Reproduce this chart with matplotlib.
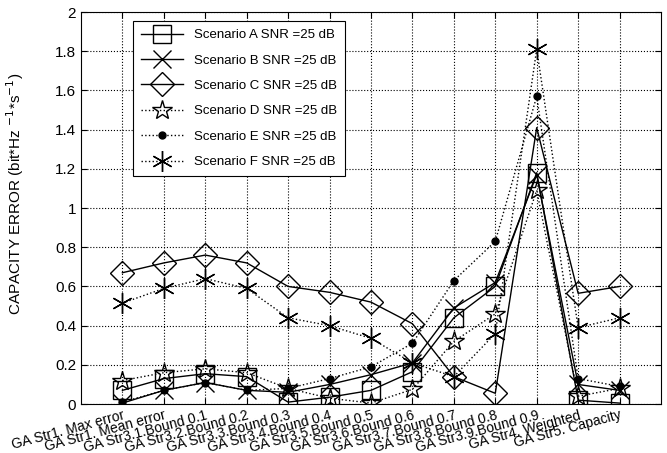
import numpy as np
import matplotlib
matplotlib.use("Agg")
import matplotlib.pyplot as plt

plt.rcParams['font.family'] = ['Liberation Sans', 'DejaVu Sans']

categories = ['GA Str1. Max error', 'GA Str1. Mean error',
              'GA Str3.1.Bound 0.1', 'GA Str3.2.Bound 0.2', 'GA Str3.3.Bound 0.3',
              'GA Str3.4.Bound 0.4', 'GA Str3.5.Bound 0.5', 'GA Str3.6.Bound 0.6',
              'GA Str3.7.Bound 0.7', 'GA Str3.8.Bound 0.8', 'GA Str3.9.Bound 0.9',
              'GA Str4. Weighted', 'GA Str5. Capacity']

scen_a = [0.07, 0.13, 0.155, 0.14, 0.01, 0.035, 0.07, 0.165, 0.44, 0.60, 1.18, 0.02, 0.005]
scen_b = [0.005, 0.07, 0.11, 0.07, 0.06, 0.10, 0.15, 0.21, 0.49, 0.62, 1.17, 0.10, 0.07]
scen_c = [0.67, 0.72, 0.76, 0.72, 0.60, 0.57, 0.52, 0.41, 0.14, 0.055, 1.41, 0.565, 0.60]
scen_d = [0.12, 0.16, 0.18, 0.16, 0.08, 0.03, 0.005, 0.075, 0.32, 0.46, 1.09, 0.04, 0.08]
scen_e = [0.01, 0.07, 0.11, 0.07, 0.08, 0.13, 0.19, 0.31, 0.63, 0.83, 1.57, 0.13, 0.09]
scen_f = [0.515, 0.59, 0.64, 0.59, 0.44, 0.40, 0.335, 0.21, 0.14, 0.36, 1.81, 0.39, 0.44]

labels = ['Scenario A SNR =25 dB', 'Scenario B SNR =25 dB', 'Scenario C SNR =25 dB',
          'Scenario D SNR =25 dB', 'Scenario E SNR =25 dB', 'Scenario F SNR =25 dB']

x = np.arange(1, len(categories) + 1)

fig = plt.figure(figsize=(6.67, 4.53), dpi=100)
ax = fig.add_axes([0.1214, 0.108, 0.8696, 0.8655])

k = dict(color='black', lw=1.0, markerfacecolor='none', markeredgecolor='black', markeredgewidth=1.0)
ax.plot(x, scen_a, '-', marker='s', ms=13, label=labels[0], **k)
ax.plot(x, scen_b, '-', marker='x', ms=13, label=labels[1], **k)
ax.plot(x, scen_c, '-', marker='D', ms=12, label=labels[2], **k)
ax.plot(x, scen_d, ':', marker='*', ms=15, label=labels[3], **k)
ax.plot(x, scen_e, ':', marker='o', ms=5, color='black', lw=1.0, markerfacecolor='black',
        markeredgecolor='black', label=labels[4])
ax.plot(x, scen_f, ':', marker=(6, 2, 0), ms=15, label=labels[5], **k)

ax.set_xlim(0, 14)
ax.set_ylim(0, 2)
ax.set_yticks(np.arange(0, 2.01, 0.2))
ax.set_yticklabels(['0', '0.2', '0.4', '0.6', '0.8', '1', '1.2', '1.4', '1.6', '1.8', '2'])
ax.set_xticks(x)
ax.set_xticklabels(categories, rotation=15, ha='right', rotation_mode='anchor', fontsize=10)
ax.tick_params(axis='y', labelsize=11)
ax.tick_params(axis='x', pad=3)
ax.tick_params(direction='in', top=True, right=True, length=4)
ax.grid(True, linestyle=':', color='black', lw=0.8)
ax.set_ylabel(r'CAPACITY ERROR (bit*Hz $^{-1}$*s$^{-1}$)', fontsize=11)
ax.yaxis.set_label_coords(-0.095, 0.536)

leg = ax.legend(loc='upper left', bbox_to_anchor=(0.0897, 0.977), borderaxespad=0,
                fontsize=9.5, frameon=True, fancybox=False, edgecolor='black', framealpha=1,
                handlelength=3.2, labelspacing=1.0, borderpad=0.6)
leg.get_frame().set_linewidth(0.8)

fig.savefig('out.png', dpi=100)
